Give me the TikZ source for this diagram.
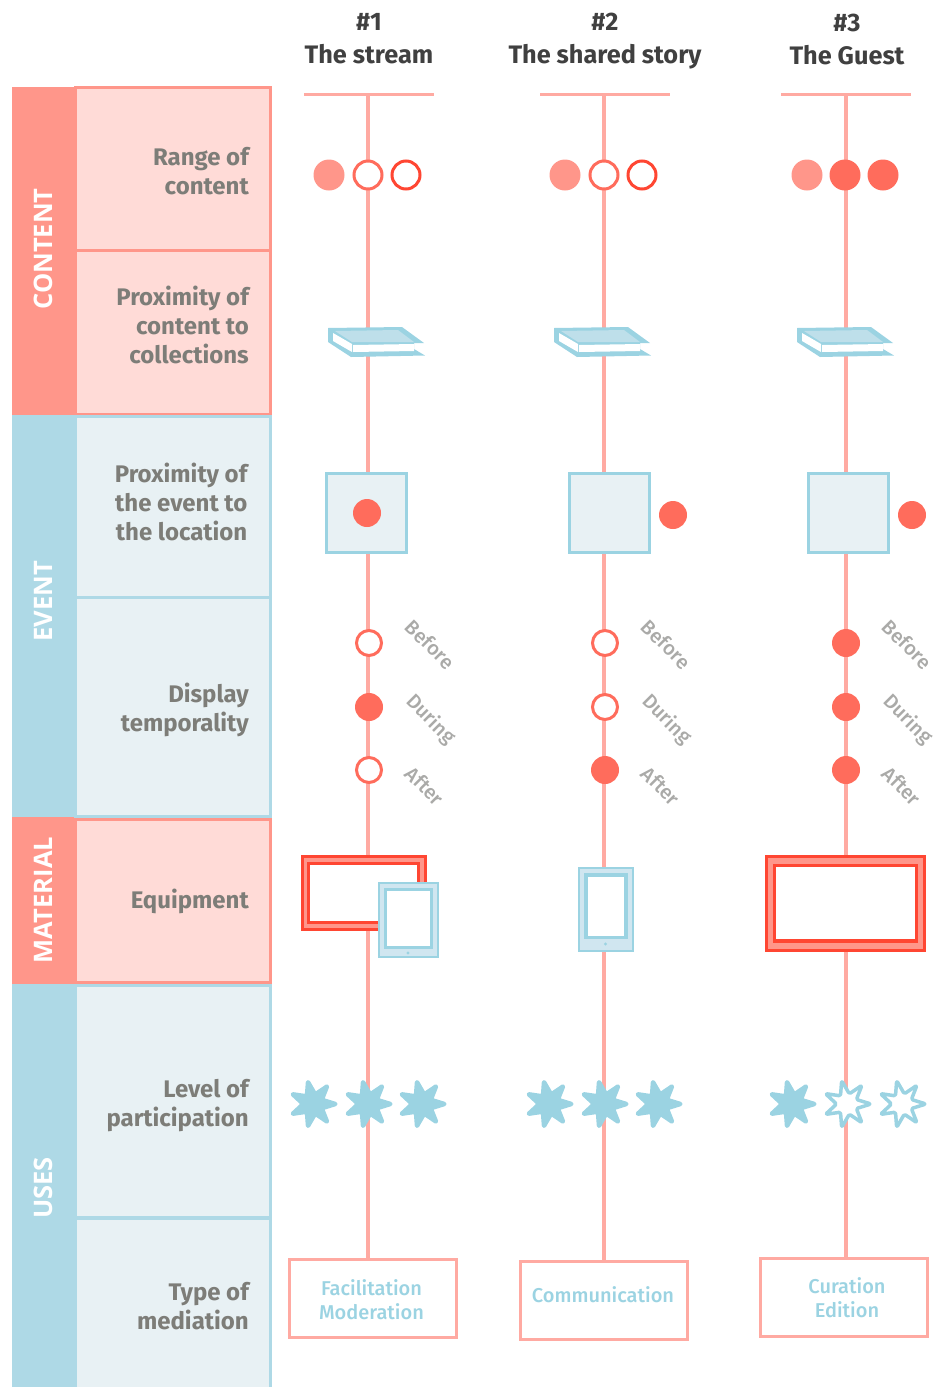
\documentclass[tikz,border=0pt]{standalone}
\usepackage{fontspec}
\usepackage{xcolor}
\setmainfont{Fira Sans}
\newfontfamily\bandfont{Open Sans}
\newfontfamily\softfont{Fira Sans Medium}
\usetikzlibrary{shapes,positioning,shapes.geometric}
\definecolor{salmon}{RGB}{255, 150, 138}
\definecolor{palesalmon}{RGB}{255, 219, 215}
\definecolor{spinered}{RGB}{255, 170, 162}
\definecolor{dotred}{RGB}{255, 108, 92}
\definecolor{deepred}{RGB}{255, 70, 50}
\definecolor{iceblue}{RGB}{174, 217, 230}
\definecolor{paleblue}{RGB}{232, 241, 244}
\definecolor{iconblue}{RGB}{155, 211, 226}
\definecolor{tabletblue}{RGB}{208, 230, 240}
\definecolor{bookblue}{RGB}{190, 223, 234}
\definecolor{labelgrey}{RGB}{125, 125, 120}
\definecolor{timegrey}{RGB}{170, 170, 168}
\tikzstyle{band} = [
    rectangle,
    minimum height=64,
    inner sep=0,
    rotate=90
]
\tikzstyle{bandtext} = [
    inner sep=0,
    rotate=90,
    text=white,
    font=\bandfont\fontsize{25.5}{29}\selectfont\bfseries
]
\tikzstyle{cell} = [
    rectangle,
    minimum width=195,
    line width=3,
    inner sep=0
]
\tikzstyle{rowlabel} = [
    anchor=east,
    align=right,
    inner sep=0,
    text=labelgrey,
    font=\fontsize{24}{29}\selectfont\bfseries
]
\tikzstyle{header} = [
    align=center,
    inner sep=0,
    text=black!75,
    font=\fontsize{25.3}{33}\selectfont\bfseries
]
\tikzstyle{topbar} = [
    rectangle,
    minimum width=130,
    minimum height=3,
    inner sep=0,
    fill=spinered
]
\tikzstyle{spine} = [
    line width=3.5,
    draw=spinered
]
\tikzstyle{filled} = [
    circle,
    minimum size=31,
    inner sep=0,
    fill=salmon
]
\tikzstyle{full} = [
    circle,
    minimum size=28,
    inner sep=0,
    fill=dotred
]
\tikzstyle{hollow} = [
    circle,
    minimum size=25,
    inner sep=0,
    line width=3,
    fill=white,
    draw=dotred
]
\tikzstyle{room} = [
    rectangle,
    minimum width=80,
    minimum height=79,
    line width=3,
    draw=iconblue,
    fill=paleblue
]
\tikzstyle{blob} = [
    star,
    star points=7,
    star point ratio=2.3,
    shape border rotate=12.86,
    minimum size=48,
    inner sep=0,
    line width=3.5,
    line join=round,
    draw=iconblue,
    rounded corners=1.5
]
\tikzstyle{when} = [
    rotate=-45,
    anchor=west,
    inner sep=0,
    text=timegrey,
    font=\softfont\fontsize{20}{24}\selectfont
]
\tikzstyle{mediation} = [
    rectangle,
    minimum width=167,
    minimum height=78,
    line width=3,
    draw=spinered,
    fill=white
]
\tikzstyle{mediatext} = [
    align=center,
    inner sep=0,
    text=iconblue,
    font=\softfont\fontsize{20}{23.5}\selectfont
]
\newcommand{\bookicon}[1]{
    \begin{scope}[xshift=#1]
        \fill[iconblue] (328,328) -- (402,327) -- (424,343) -- (414,343) -- (414,349) -- (425,355.5) -- (351,357) -- (328,342) -- cycle;
        \fill[bookblue] (335,331) -- (398,330) -- (414,342) -- (352,342) -- cycle;
        \fill[white] (333,333) -- (352,344) -- (352,352) -- (333,341) -- cycle;
        \fill[white] (353,345) -- (414,344) -- (414,351) -- (353,352) -- cycle;
    \end{scope}
}
\newcommand{\tableticon}[7]{
    \fill[tabletblue, draw=iconblue, line width=2] (#1,#2) rectangle (#3,#4);
    \draw[iconblue, line width=3.5, fill=white] (#5,#6) rectangle (#7);
}
\begin{document}
\begin{tikzpicture}[x=1pt,y=-1pt]
    \useasboundingbox (0,0) rectangle (935,1387);
    % left side
    \foreach \y/\h/\c/\m/\t [count=\i] in {
        251/328/salmon/249/CONTENT,
        616/402/iceblue/601/EVENT,
        900.5/167/salmon/900/MATERIAL,
        1185.5/403/iceblue/1188/USES} {
        \node[band, fill=\c, minimum width=\h] (band\i) at (44,\y) {};
        \node[bandtext] (bandtext\i) at (43,\m) {\t};
    }
    \foreach \y/\h/\c/\k [count=\i] in {
        168.5/163/salmon/palesalmon,
        332/164/salmon/palesalmon,
        506.5/181/iceblue/paleblue,
        706.5/219/iceblue/paleblue,
        900.5/163/salmon/palesalmon,
        1101.5/232/iceblue/paleblue,
        1303/170/iceblue/paleblue} {
        \node[cell, draw=\c, fill=\k, minimum height=\h] (cell\i) at (173,\y) {};
    }
    \node[rowlabel] (label1) at (249,171) {Range of\\content};
    \node[rowlabel] (label2) at (249,325) {Proximity of\\content to\\collections};
    \node[rowlabel] (label3) at (247.5,502) {Proximity of\\the event to\\the location};
    \node[rowlabel] (label4) at (249,710) {Display\\temporality};
    \node[rowlabel] (label5) at (249,901) {Equipment};
    \node[rowlabel] (label6) at (249,1106) {Level of\\participation};
    \node[rowlabel] (label7) at (249,1306) {Type of\\mediation};
    % columns
    \node[header] (head1) at (369,39) {\#1\\The stream};
    \node[header] (head2) at (605,41.5) {\#2\\The shared story};
    \node[header] (head3) at (847,39) {\#3\\The Guest};
    \node[mediation] (box1) at (373,1298.5) {};
    \node[mediation] (box2) at (603.5,1300.5) {};
    \node[mediation] (box3) at (843.5,1297) {};
    \node[mediatext] (text1) at (371.5,1299.5) {Facilitation\\Moderation};
    \node[mediatext] (text2) at (603,1295) {Communication};
    \node[mediatext] (text3) at (847,1297.5) {Curation\\Edition};
    \foreach \x/\b [count=\i] in {368/368.5, 604/605, 846/846} {
        \node[topbar] (top\i) at (\b,94.5) {};
        \draw[spine] (top\i.center -| \x,0) -- (box\i.north -| \x,0);
    }
    % range of content
    \foreach \x/\s in {329/filled, 565/filled, 807/filled} {
        \node[\s] (range\x) at (\x,175) {};
    }
    \foreach \x in {845,883} {
        \node[full, minimum size=31] (range\x) at (\x,175) {};
    }
    \foreach \x/\c in {368/dotred, 406/deepred, 604/dotred, 642/deepred} {
        \node[hollow, draw=\c, minimum size=28] (range\x) at (\x,175) {};
    }
    % books
    \foreach \s in {0,226,469} {
        \bookicon{\s}
    }
    % location
    \foreach \x/\d/\e [count=\i] in {366/367/513, 609/673/515, 848/912/515} {
        \node[room] (room\i) at (\x,512.5) {};
        \node[full] (here\i) at (\d,\e) {};
    }
    % temporality
    \foreach \x/\a/\b/\c [count=\i] in {
        369/hollow/full/hollow,
        605/hollow/hollow/full,
        846/full/full/full} {
        \node[\a] (before\i) at (\x,643) {};
        \node[\b] (during\i) at (\x,707) {};
        \node[\c] (after\i) at (\x,770) {};
        \node[when] (beforetext\i) at (\x+40,623) {Before};
        \node[when] (duringtext\i) at (\x+40,698) {During};
        \node[when] (aftertext\i) at (\x+40,770) {After};
    }
    % equipment
    \filldraw[deepred, fill=salmon, line width=3] (302.5,856.5) rectangle (425.5,929.5);
    \filldraw[deepred, fill=white, line width=3.5] (308.5,863.5) rectangle (418.5,922.5);
    \tableticon{378.5}{882.5}{438}{957}{385.5}{889.5}{431.5,947.5}
    \fill[iconblue] (408,953) circle (1.7);
    \tableticon{579}{867.5}{633}{951}{586}{875}{626,937.5}
    \fill[iconblue] (605.5,944) circle (1.7);
    \filldraw[deepred, fill=salmon, line width=3] (766.5,856.5) rectangle (924.5,950.5);
    \filldraw[deepred, fill=white, line width=3.5] (774.5,865.5) rectangle (916.5,941);
    % participation
    \foreach \x/\k [count=\i] in {
        313/iconblue, 368/iconblue, 422/iconblue,
        549/iconblue, 604/iconblue, 658/iconblue,
        792/iconblue, 847/white, 902/white} {
        \node[blob, fill=\k] (level\i) at (\x,1104) {};
    }
\end{tikzpicture}
\end{document}
